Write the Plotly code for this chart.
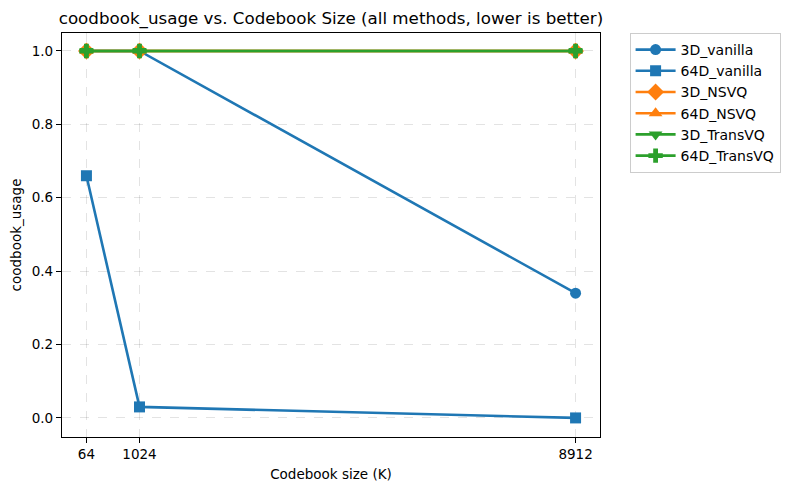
import plotly.graph_objects as go

codebook_sizes = [64, 1024, 8912]
series_names = ["3D_vanilla", "64D_vanilla", "3D_NSVQ", "64D_NSVQ", "3D_TransVQ", "64D_TransVQ"]
usage_3d_vanilla = [1.0, 1.0, 0.34]
usage_64d_vanilla = [0.66, 0.03, 0.0]
usage_3d_nsvq = [1.0, 1.0, 1.0]
usage_64d_nsvq = [1.0, 1.0, 1.0]
usage_3d_transvq = [1.0, 1.0, 1.0]
usage_64d_transvq = [1.0, 1.0, 1.0]
y_ticks = [0.0, 0.2, 0.4, 0.6, 0.8, 1.0]

values = [usage_3d_vanilla, usage_64d_vanilla, usage_3d_nsvq, usage_64d_nsvq, usage_3d_transvq, usage_64d_transvq]
colors = ["#1f77b4", "#1f77b4", "#ff7f0e", "#ff7f0e", "#2ca02c", "#2ca02c"]
symbols = ["circle", "square", "diamond", "triangle-up", "triangle-down", "cross"]
sizes = [11, 11, 13, 12, 12, 12]

fig = go.Figure()
for name, vals, c, s, sz in zip(series_names, values, colors, symbols, sizes):
    fig.add_trace(go.Scatter(
        x=codebook_sizes, y=vals, name=name, mode="lines+markers",
        line=dict(color=c, width=2.6),
        marker=dict(symbol=s, size=sz, color=c, line=dict(width=0)),
    ))

axis_common = dict(
    showline=True, linecolor="black", linewidth=1.2, mirror=True,
    ticks="outside", ticklen=5, tickcolor="black", tickwidth=1,
    showgrid=True, gridcolor="rgba(0,0,0,0.11)", griddash="dash", gridwidth=1,
    zeroline=False, tickfont=dict(size=13.5, color="black"), automargin=False,
)

fig.update_layout(
    width=785, height=490,
    margin=dict(l=62, r=185, t=33, b=53, autoexpand=False),
    paper_bgcolor="white", plot_bgcolor="white",
    font=dict(family="DejaVu Sans", color="black"),
    title=dict(text="coodbook_usage vs. Codebook Size (all methods, lower is better)",
               x=331 / 785, xanchor="center", y=1 - 18 / 490, yanchor="middle",
               font=dict(size=16.7, color="black")),
    xaxis=dict(axis_common, range=[-378, 9354], tickvals=codebook_sizes,
               ticktext=[str(v) for v in codebook_sizes],
               title=dict(text="Codebook size (K)", font=dict(size=13.5), standoff=8)),
    yaxis=dict(axis_common, range=[-0.052, 1.049], tickvals=y_ticks,
               ticktext=[f"{v:.1f}" for v in y_ticks],
               title=dict(text="coodbook_usage", font=dict(size=13.5), standoff=6)),
    legend=dict(x=1.055, y=1.0, xanchor="left", yanchor="top",
                bordercolor="#cccccc", borderwidth=1, font=dict(size=14),
                tracegroupgap=0, itemwidth=40),
    showlegend=True,
)

fig.write_html("out.html", config={"displayModeBar": False},
               post_script="document.body.style.margin='0';document.body.style.padding='0';")
